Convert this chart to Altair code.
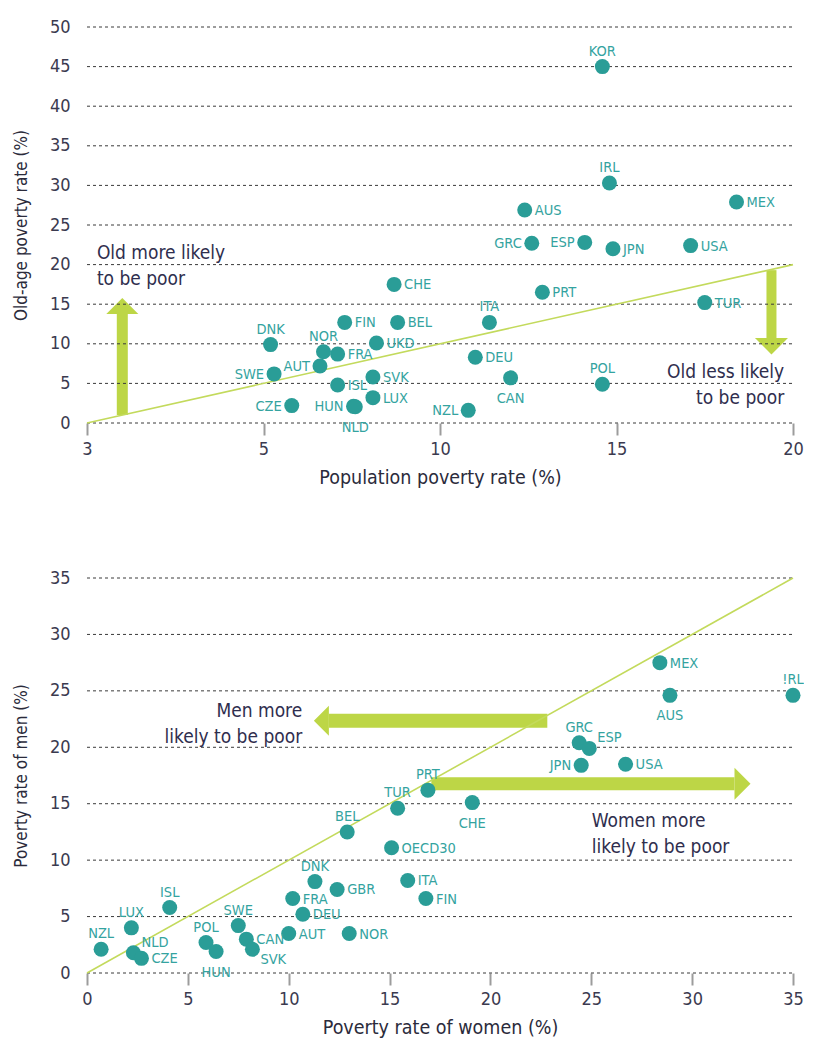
import altair as alt
import pandas as pd

# ---------------- Panel 1: old-age vs population poverty ----------------
top_countries = ["KOR", "IRL", "MEX", "AUS", "GRC", "ESP", "JPN", "USA", "CHE", "PRT",
                 "TUR", "ITA", "BEL", "FIN", "UKD", "DNK", "NOR", "FRA", "AUT", "SWE",
                 "DEU", "SVK", "ISL", "CAN", "POL", "LUX", "CZE", "HUN", "NLD", "NZL"]
top_population_rate = [14.6, 14.8, 18.4, 12.4, 12.6, 14.1, 14.9, 17.1, 8.7, 12.9,
                       17.5, 11.4, 8.8, 7.3, 8.2, 5.2, 6.7, 7.1, 6.6, 5.3,
                       11.0, 8.1, 7.1, 12.0, 14.6, 8.1, 5.8, 7.55, 7.6, 10.8]
top_old_age_rate = [45.0, 30.3, 27.9, 26.9, 22.7, 22.8, 22.0, 22.4, 17.5, 16.5,
                    15.2, 12.7, 12.7, 12.7, 10.1, 9.9, 9.0, 8.7, 7.2, 6.2,
                    8.3, 5.8, 4.8, 5.7, 4.9, 3.2, 2.2, 2.1, 2.05, 1.6]
top_label_side = ["above", "above", "right", "right", "left", "left", "right", "right", "right", "right",
                  "right", "above", "right", "right", "right", "above", "above", "right", "left", "left",
                  "right", "right", "right", "below", "above", "right", "left", "left", "below", "left"]
top_x_ticks = [0, 5, 10, 15, 20]
top_x_tick_labels = ["3", "5", "10", "15", "20"]
top_y_ticks = [0, 5, 10, 15, 20, 25, 30, 35, 40, 45, 50]
top_notes = ["Old more likely\nto be poor", "Old less likely\nto be poor"]

# ---------------- Panel 2: men vs women poverty ----------------
bottom_countries = ["MEX", "AUS", "!RL", "GRC", "ESP", "JPN", "USA", "PRT", "TUR", "CHE",
                    "BEL", "OECD30", "DNK", "ITA", "GBR", "FIN", "FRA", "DEU", "ISL", "LUX",
                    "SWE", "AUT", "NOR", "CAN", "POL", "NZL", "SVK", "NLD", "HUN", "CZE"]
women_rate = [28.4, 28.9, 35.0, 24.4, 24.9, 24.5, 26.7, 16.9, 15.4, 19.1,
              12.9, 15.1, 11.3, 15.9, 12.4, 16.8, 10.2, 10.7, 4.1, 2.2,
              7.5, 10.0, 13.0, 7.9, 5.9, 0.7, 8.2, 2.3, 6.4, 2.7]
men_rate = [27.5, 24.6, 24.6, 20.4, 19.9, 18.4, 18.5, 16.2, 14.6, 15.1,
            12.5, 11.1, 8.1, 8.2, 7.4, 6.6, 6.6, 5.2, 5.8, 4.0,
            4.2, 3.5, 3.5, 3.0, 2.7, 2.1, 2.1, 1.8, 1.9, 1.3]
bottom_label_side = ["right", "below", "above", "above", "above-right", "left", "right", "above", "above", "below",
                     "above", "right", "above", "right", "right", "right", "right", "right", "above", "above",
                     "above", "right", "right", "right", "above", "above", "below-right", "above-right", "below", "right"]
bottom_x_ticks = [0, 5, 10, 15, 20, 25, 30, 35]
bottom_x_tick_labels = ["0", "5", "10", "15", "20", "25", "30", "35"]
bottom_y_ticks = [0, 5, 10, 15, 20, 25, 30, 35]
bottom_notes = ["Men more\nlikely to be poor", "Women more\nlikely to be poor"]

# ---------------- styling ----------------
FONT = "DejaVu Sans Condensed, DejaVu Sans, sans-serif"
TEAL = "#2a9d97"
LABEL_TEAL = "#34a3a0"
GREEN = "#bdd646"
LINE_GREEN = "#c3da5c"
DARK = "#2f2e4e"
GRID = "#3a3a3a"

SIDE_STYLE = {
    "right": dict(align="left", dx=10, dy=5),
    "left": dict(align="right", dx=-10, dy=5),
    "above": dict(align="center", dx=0, dy=-11),
    "below": dict(align="center", dx=0, dy=25),
    "above-right": dict(align="left", dx=8, dy=-6),
    "below-right": dict(align="left", dx=8, dy=15),
}

HEAD_PATHS = {
    "up": "M-1,0L1,0L0,-1Z",
    "down": "M-1,0L1,0L0,1Z",
    "left": "M0,-1L0,1L-1,0Z",
    "right": "M0,-1L0,1L1,0Z",
}


def panel(countries, xs_vals, ys_vals, sides, xdom, ydom, xticks, xlabels, yticks,
          xtitle, ytitle, notes_df, shafts_df, heads_df, w, h):
    xsc = alt.Scale(domain=xdom, nice=False, zero=False)
    ysc = alt.Scale(domain=ydom, nice=False, zero=False)
    parts = [f"datum.value == {v} ? '{l}'" for v, l in zip(xticks, xlabels)]
    label_expr = " : ".join(parts) + " : datum.label"

    X = alt.X("x:Q", scale=xsc, title=xtitle,
              axis=alt.Axis(values=xticks, grid=False, domain=False, ticks=True, tickSize=12,
                            tickWidth=2, labelPadding=5, titlePadding=10, labelExpr=label_expr,
                            labelFlush=False, labelOverlap=False, titleFontSize=19.5))
    Y = alt.Y("y:Q", scale=ysc, title=ytitle,
              axis=alt.Axis(values=yticks, grid=False, domain=False, ticks=False, labelPadding=17,
                            titlePadding=19, labelFlush=False, labelOverlap=False, titleFontSize=17))

    pts = pd.DataFrame({"country": countries, "x": xs_vals, "y": ys_vals, "side": sides})

    shafts = alt.Chart(shafts_df).mark_rule(color=GREEN, strokeCap="butt").encode(
        x=X, x2="x2:Q", y=Y, y2="y2:Q",
        strokeWidth=alt.StrokeWidth("sw:Q", scale=None),
    )
    heads = alt.Chart(heads_df).mark_point(filled=True, color=GREEN, opacity=1, strokeWidth=0).encode(
        x=X, y=Y,
        shape=alt.Shape("shape:N", scale=None),
        size=alt.Size("size:Q", scale=None),
    )
    grid = alt.Chart(pd.DataFrame({"y": yticks})).mark_rule(
        color=GRID, strokeDash=[3, 3], strokeWidth=1
    ).encode(y=Y, x=alt.value(0), x2=alt.value(w))

    diag = alt.Chart(pd.DataFrame({"x": [xdom[0], xdom[1]], "y": [xdom[0], xdom[1]]})).mark_line(
        color=LINE_GREEN, strokeWidth=1.6
    ).encode(x=X, y=Y)

    dots = alt.Chart(pts).mark_circle(size=225, color=TEAL, opacity=1).encode(x=X, y=Y)

    layers = [shafts, heads, grid, diag, dots]
    for side, st in SIDE_STYLE.items():
        layers.append(
            alt.Chart(pts).transform_filter(alt.datum.side == side).mark_text(
                font=FONT, fontSize=14.5, color=LABEL_TEAL, baseline="alphabetic", **st
            ).encode(x=X, y=Y, text="country:N")
        )
    for al in ["left", "right"]:
        layers.append(
            alt.Chart(notes_df).transform_filter(alt.datum.align == al).mark_text(
                font=FONT, fontSize=19, color=DARK, baseline="alphabetic", align=al,
                lineBreak="\n", lineHeight=26
            ).encode(x=X, y=Y, text="text:N")
        )
    return alt.layer(*layers).properties(width=w, height=h)


top_notes_df = pd.DataFrame({"text": top_notes, "x": [0.28, 19.75], "y": [20.7, 5.68],
                             "align": ["left", "right"]})
top_shafts = pd.DataFrame({"x": [1.0, 19.39], "x2": [1.0, 19.39], "y": [1.0, 19.3],
                           "y2": [13.76, 10.73], "sw": [11, 10]})
top_heads = pd.DataFrame({"x": [1.0, 19.39], "y": [13.76, 10.73],
                          "shape": [HEAD_PATHS["up"], HEAD_PATHS["down"]], "size": [1024, 1089]})

bottom_notes_df = pd.DataFrame({"text": bottom_notes, "x": [10.67, 25.02], "y": [22.7, 12.96],
                                "align": ["right", "left"]})
bottom_shafts = pd.DataFrame({"x": [11.99, 17.07], "x2": [22.82, 32.1], "y": [22.35, 16.77],
                              "y2": [22.35, 16.77], "sw": [14, 13]})
bottom_heads = pd.DataFrame({"x": [11.99, 32.1], "y": [22.35, 16.77],
                             "shape": [HEAD_PATHS["left"], HEAD_PATHS["right"]], "size": [900, 1024]})

top = panel(top_countries, top_population_rate, top_old_age_rate, top_label_side,
            [0, 20], [0, 50], top_x_ticks, top_x_tick_labels, top_y_ticks,
            "Population poverty rate (%)", "Old-age poverty rate (%)",
            top_notes_df, top_shafts, top_heads, 706, 396)

bottom = panel(bottom_countries, women_rate, men_rate, bottom_label_side,
               [0, 35], [0, 35], bottom_x_ticks, bottom_x_tick_labels, bottom_y_ticks,
               "Poverty rate of women (%)", "Poverty rate of men (%)",
               bottom_notes_df, bottom_shafts, bottom_heads, 706, 395)

chart = alt.vconcat(top, bottom, spacing=82).properties(
    padding={"left": 4, "top": 10, "right": 0, "bottom": 5}
).configure_view(stroke=None).configure_axis(
    labelFont=FONT, titleFont=FONT, labelFontSize=18,
    labelColor="#3b3a4f", titleColor="#2b2b3b", titleFontWeight="normal",
    tickColor="#9c9c9c"
)

chart.save("out.html", embed_options={"renderer": "svg", "actions": False})
